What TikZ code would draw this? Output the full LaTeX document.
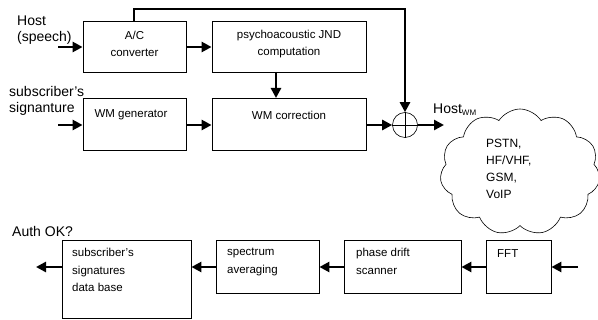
\documentclass[tikz,border=0pt]{standalone}
\usepackage{fontspec}
\setmainfont{Liberation Sans}
\usetikzlibrary{arrows.meta, shapes.symbols}
\tikzset{
	blk/.style={draw, line width=0.8pt, inner sep=0pt},
	txt/.style={inner sep=0pt, align=left, font=\fontsize{11.5}{17.5}\selectfont},
	lbl/.style={inner sep=0pt, align=left, font=\fontsize{14}{16}\selectfont},
	flow/.style={line width=2.6pt, -{Triangle[length=10pt, width=10pt]}}
}

\begin{document}
\begin{tikzpicture}[x=1pt, y=-1pt]
	\useasboundingbox (0,0) rectangle (598,320);

	% embedding side
	\node[blk, minimum width=103, minimum height=51] (ac) at (134.5,46.5) {};
	\node[txt, align=center] (ac-t) at (134.5,44) {A/C\\converter};
	\node[blk, minimum width=154, minimum height=51] (jnd) at (289,46.5) {};
	\node[txt, align=center] (jnd-t) at (289,44) {psychoacoustic JND\\computation};
	\node[blk, minimum width=103, minimum height=52] (gen) at (134.5,124) {};
	\node[txt] (gen-t) at (131,115) {WM generator};
	\node[blk, minimum width=154, minimum height=52] (corr) at (289,124) {};
	\node[txt] (corr-t) at (289,115) {WM correction};
	\node[draw, circle, line width=0.6pt, minimum size=25, inner sep=0pt] (sum) at (405,125) {};
	\draw[line width=0.6pt] (sum.north) -- (sum.south) (sum.west) -- (sum.east);

	\node[lbl, anchor=west] (host) at (17,30) {Host\\(speech)};
	\node[lbl, anchor=west] (sig) at (9,101) {subscriber's\\signanture};
	\node[lbl, anchor=west] (hwm) at (433,110) {Host\textsubscript{\fontsize{8}{8}\selectfont WM}};
	\coordinate (in1) at (58,47);
	\coordinate (in2) at (58,125);
	\coordinate (out) at (444,125);
	\coordinate (top) at (134,9);
	\coordinate (topr) at (405,9);

	\draw[flow] (in1) -- (ac.west |- in1);
	\draw[flow] (ac.east |- in1) -- (jnd.west |- in1);
	\draw[flow] (in2) -- (gen.west |- in2);
	\draw[flow] (gen.east |- in2) -- (corr.west |- in2);
	\draw[flow] (276,72) -- (276,98);
	\draw[flow] (corr.east |- sum) -- (sum.west);
	\draw[flow] (sum.east) -- (out);
	\draw[flow] (ac.north -| top) -- (top) -- (topr) -- (sum.north);

	% channel
	\node[cloud, draw, line width=0.6pt, cloud puffs=11, cloud puff arc=115, aspect=1.25,
		minimum width=160, minimum height=126] (net) at (520,172) {};
	\node[txt, anchor=north west, font=\fontsize{12}{17}\selectfont] (net-t) at (486,139) {PSTN,\\HF/VHF,\\GSM,\\VoIP};

	% detection side
	\node[blk, minimum width=129, minimum height=78] (db) at (126.5,279) {};
	\node[txt, anchor=north west] (db-t) at (72,248) {subscriber's\\signatures\\data base};
	\node[blk, minimum width=103, minimum height=53] (avg) at (267.5,266.5) {};
	\node[txt, anchor=north west] (avg-t) at (227,248) {spectrum\\averaging};
	\node[blk, minimum width=117, minimum height=53] (pds) at (402.5,266.5) {};
	\node[txt, anchor=north west] (pds-t) at (356,248) {phase drift\\scanner};
	\node[blk, minimum width=65, minimum height=53] (fft) at (518.5,266.5) {};
	\node[txt, anchor=north west] (fft-t) at (497,249) {FFT};
	\node[lbl, anchor=west] (auth) at (12,231) {Auth OK?};
	\coordinate (in3) at (578,267);
	\coordinate (res) at (36,267);

	\draw[flow] (in3) -- (fft.east |- in3);
	\draw[flow] (fft.west |- in3) -- (pds.east |- in3);
	\draw[flow] (pds.west |- in3) -- (avg.east |- in3);
	\draw[flow] (avg.west |- in3) -- (db.east |- in3);
	\draw[flow] (db.west |- in3) -- (res);
\end{tikzpicture}
\end{document}
